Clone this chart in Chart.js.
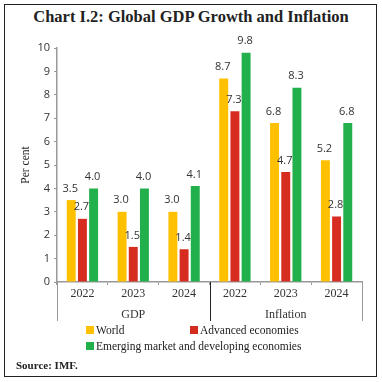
<!DOCTYPE html>
<html>
<head>
<meta charset="utf-8">
<script src="https://cdn.jsdelivr.net/npm/chart.js@4"></script>
<style>
    body { margin: 0; background: #fff; }
    #wrap { position: relative; width: 382px; height: 382px; }
    #frame { position: absolute; left: 4px; top: 4px; width: 373px; height: 373px; border: 1px solid #222; box-sizing: border-box; }
    #title { position: absolute; left: 0; top: 7px; width: 382px; text-align: center; font-family: 'Liberation Serif', serif; font-weight: bold; font-size: 16.5px; color: #222; }
    #chart { position: absolute; left: 0; top: 0; }
    .leg { position: absolute; font-family: 'Liberation Serif', serif; font-size: 11.5px; color: #222; white-space: nowrap; }
    .leg i { display: inline-block; width: 8px; height: 8px; margin-right: 2px; }
    #source { position: absolute; left: 16px; top: 359px; font-family: 'Liberation Serif', serif; font-size: 11px; font-weight: bold; color: #222; }
</style>
</head>
<body>
<div id="wrap">
    <div id="frame"></div>
    <div id="title">Chart I.2: Global GDP Growth and Inflation</div>
    <canvas id="chart" width="382" height="382"></canvas>
    <div class="leg" style="left:86px;top:324px"><i style="background:#FFC000"></i>World</div>
    <div class="leg" style="left:190px;top:324px"><i style="background:#D62D20"></i>Advanced economies</div>
    <div class="leg" style="left:86px;top:340px"><i style="background:#21B04B"></i>Emerging market and developing economies</div>
    <div id="source">Source: IMF.</div>
</div>
<script>
// Data
const years = ['2022', '2023', '2024', '2022', '2023', '2024'];
const groups = ['', 'GDP', '', '', 'Inflation', ''];
const world = [3.5, 3.0, 3.0, 8.7, 6.8, 5.2];
const advanced = [2.7, 1.5, 1.4, 7.3, 4.7, 2.8];
const emerging = [4.0, 4.0, 4.1, 9.8, 8.3, 6.8];

const colors = {
    world: '#FFC000',
    advanced: '#D62D20',
    emerging: '#21B04B'
};

// Draws value labels above each bar
const valueLabels = {
    id: 'valueLabels',
    afterDatasetsDraw(chart) {
        const ctx = chart.ctx;
        ctx.save();
        ctx.font = '11px "Open Sans", sans-serif';
        ctx.fillStyle = '#333';
        ctx.textAlign = 'center';
        ctx.textBaseline = 'bottom';
        chart.data.datasets.forEach((ds, i) => {
            chart.getDatasetMeta(i).data.forEach((bar, j) => {
                ctx.fillText(ds.data[j].toFixed(1), bar.x - 1, bar.y - 6);
            });
        });
        ctx.restore();
    }
};

// Group separators below the axis
const separators = {
    id: 'separators',
    afterDraw(chart) {
        const ctx = chart.ctx;
        const x = chart.scales.x;
        const bottom = chart.chartArea.bottom;
        ctx.save();
        ctx.lineWidth = 1;
        [[-0.5, '#999'], [2.5, '#222'], [5.5, '#999']].forEach(([v, c]) => {
            const px = Math.round(x.getPixelForValue(v)) + 0.5;
            ctx.strokeStyle = c;
            ctx.beginPath();
            ctx.moveTo(px, bottom);
            ctx.lineTo(px, 321);
            ctx.stroke();
        });
        ctx.restore();
    }
};

new Chart(document.getElementById('chart'), {
    type: 'bar',
    data: {
        labels: years,
        datasets: [
            { label: 'World', data: world, backgroundColor: colors.world },
            { label: 'Advanced economies', data: advanced, backgroundColor: colors.advanced },
            { label: 'Emerging market and developing economies', data: emerging, backgroundColor: colors.emerging }
        ]
    },
    options: {
        responsive: false,
        animation: false,
        layout: { padding: { top: 48, bottom: 62, left: 0, right: 20 } },
        datasets: {
            bar: { categoryPercentage: 0.66, barPercentage: 0.8 }
        },
        plugins: {
            legend: { display: false },
            tooltip: { enabled: false }
        },
        scales: {
            y: {
                min: 0,
                max: 10,
                ticks: {
                    stepSize: 1,
                    color: '#333',
                    font: { family: '"Open Sans", sans-serif', size: 11 },
                    padding: 4
                },
                grid: { drawOnChartArea: false, tickLength: 3, color: '#999' },
                border: { color: '#999', width: 1.5 },
                title: {
                    display: true,
                    text: 'Per cent',
                    color: '#222',
                    padding: { top: 19, bottom: 0 },
                    font: { family: '"Liberation Serif", serif', size: 11.5 }
                },
                afterFit(scale) { scale.width = 57; }
            },
            x: {
                ticks: {
                    color: '#333',
                    font: { family: '"Liberation Serif", serif', size: 12 },
                    padding: 2
                },
                grid: { drawOnChartArea: false, offset: true, tickLength: 3, color: '#999' },
                border: { color: '#999', width: 1.5 },
                afterFit(scale) { scale.height = 18; }
            },
            x2: {
                type: 'category',
                labels: groups,
                position: 'bottom',
                grid: { display: false },
                border: { display: false },
                ticks: {
                    color: '#333',
                    autoSkip: false,
                    maxRotation: 0,
                    font: { family: '"Liberation Serif", serif', size: 12 },
                    padding: 0
                },
                afterFit(scale) { scale.height = 20; }
            }
        }
    },
    plugins: [valueLabels, separators]
});
</script>
</body>
</html>
